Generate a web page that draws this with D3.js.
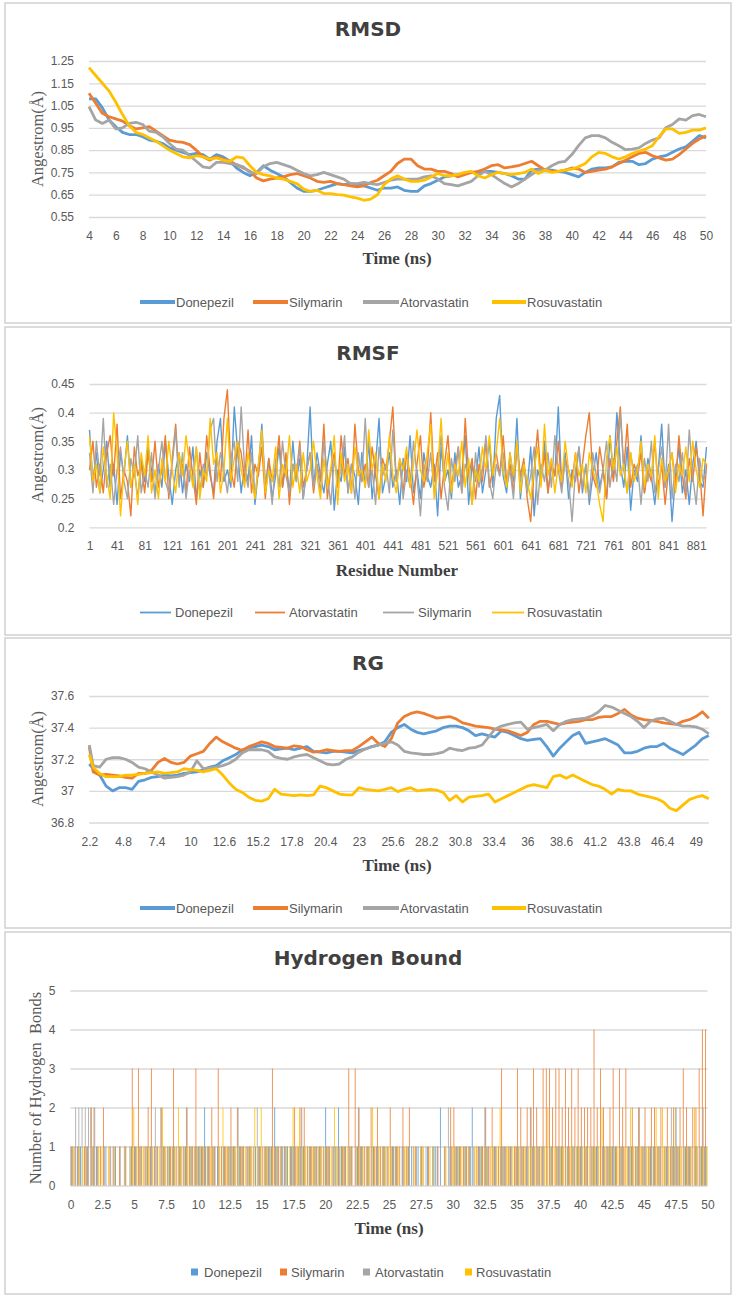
<!DOCTYPE html>
<html><head><meta charset="utf-8">
<script src="https://cdn.jsdelivr.net/npm/d3@7"></script>
<style>
html,body{margin:0;padding:0;background:#fff;}
svg{display:block;}
</style></head><body>
<svg id="c" width="736" height="1304"></svg>
<script>
// ---------------- DATA ----------------
const seriesNames = ["Donepezil","Silymarin","Atorvastatin","Rosuvastatin"];
const rmsfOrder = ["Donepezil","Atorvastatin","Silymarin","Rosuvastatin"];

// RMSD (Å), every 0.5 ns from 4 to 50 ns
const rmsdTimes = d3.range(4, 50.001, 0.5);
const rmsdTicks = [4,6,8,10,12,14,16,18,20,22,24,26,28,30,32,34,36,38,40,42,44,46,48,50];
const rmsdYTicks = [0.55,0.65,0.75,0.85,0.95,1.05,1.15,1.25];
const donepezilRMSD = [1.08,1.08,1.04,0.985,0.955,0.93,0.92,0.92,0.91,0.895,0.89,0.88,0.86,0.85,0.84,0.83,0.835,0.83,0.81,0.83,0.82,0.80,0.77,0.75,0.735,0.75,0.78,0.76,0.745,0.73,0.705,0.68,0.665,0.665,0.67,0.68,0.69,0.70,0.695,0.70,0.695,0.69,0.68,0.67,0.68,0.68,0.685,0.67,0.665,0.665,0.69,0.70,0.715,0.73,0.735,0.74,0.745,0.75,0.75,0.755,0.755,0.75,0.745,0.735,0.72,0.72,0.76,0.765,0.76,0.76,0.755,0.75,0.74,0.73,0.75,0.765,0.77,0.77,0.775,0.795,0.80,0.80,0.785,0.79,0.81,0.82,0.825,0.84,0.855,0.865,0.89,0.915,0.905];
const silymarinRMSD = [1.105,1.06,1.015,1.00,0.99,0.98,0.96,0.945,0.95,0.955,0.935,0.915,0.895,0.888,0.885,0.875,0.85,0.82,0.805,0.82,0.81,0.80,0.785,0.77,0.755,0.725,0.712,0.72,0.725,0.73,0.74,0.745,0.735,0.725,0.71,0.705,0.71,0.70,0.695,0.69,0.685,0.69,0.705,0.715,0.735,0.755,0.79,0.81,0.81,0.78,0.765,0.765,0.755,0.755,0.745,0.73,0.74,0.75,0.755,0.765,0.78,0.785,0.77,0.775,0.78,0.79,0.80,0.78,0.76,0.755,0.755,0.76,0.77,0.765,0.75,0.755,0.76,0.765,0.775,0.79,0.805,0.82,0.835,0.84,0.825,0.815,0.805,0.81,0.83,0.855,0.88,0.90,0.915];
const atorvastatinRMSD = [1.045,0.985,0.97,0.985,0.945,0.95,0.97,0.975,0.965,0.935,0.93,0.91,0.88,0.855,0.85,0.825,0.80,0.775,0.77,0.795,0.795,0.79,0.785,0.775,0.75,0.745,0.775,0.79,0.795,0.785,0.775,0.76,0.745,0.735,0.74,0.75,0.74,0.73,0.72,0.70,0.70,0.705,0.70,0.695,0.705,0.715,0.72,0.72,0.72,0.72,0.73,0.735,0.72,0.70,0.695,0.69,0.70,0.71,0.735,0.755,0.74,0.72,0.70,0.685,0.70,0.72,0.74,0.76,0.76,0.78,0.795,0.80,0.83,0.87,0.905,0.915,0.915,0.905,0.885,0.87,0.852,0.855,0.86,0.88,0.895,0.905,0.95,0.965,0.99,0.985,1.005,1.01,1.00];
const rosuvastatinRMSD = [1.22,1.185,1.15,1.115,1.065,1.01,0.96,0.93,0.92,0.905,0.89,0.87,0.85,0.835,0.82,0.815,0.825,0.82,0.81,0.815,0.805,0.80,0.82,0.815,0.78,0.75,0.74,0.735,0.725,0.72,0.71,0.70,0.675,0.665,0.67,0.655,0.655,0.65,0.648,0.64,0.635,0.625,0.63,0.65,0.695,0.72,0.735,0.72,0.71,0.71,0.715,0.73,0.745,0.735,0.735,0.74,0.75,0.755,0.735,0.725,0.74,0.75,0.745,0.74,0.745,0.75,0.765,0.745,0.76,0.75,0.755,0.76,0.765,0.775,0.79,0.82,0.84,0.835,0.82,0.81,0.82,0.835,0.845,0.855,0.87,0.91,0.945,0.945,0.925,0.93,0.94,0.94,0.95];

// RMSF (hundredths of Å), every 5th residue from 1 to 896
const rmsfResidues = d3.range(1, 897, 5);
const rmsfTicks = [1,41,81,121,161,201,241,281,321,361,401,441,481,521,561,601,641,681,721,761,801,841,881];
const rmsfYTicks = [0.2,0.25,0.3,0.35,0.4,0.45];
const donepezilRMSF = [37,28,33,26,30,35,27,31,24,33,29,36,27,30,25,32,28,34,30,26,
31,27,35,29,24,30,33,26,31,28,34,25,30,27,33,29,26,35,39,28,
30,27,41,33,26,31,28,36,24,30,38,27,32,25,29,34,27,31,26,35,
28,32,25,30,41,27,33,29,26,31,35,23,30,28,34,26,31,29,24,33,
27,35,25,31,39,26,29,33,27,30,24,32,28,36,26,30,25,33,29,27,
31,22,34,28,30,25,33,27,29,36,24,31,28,34,26,30,35,27,39,43,
29,26,33,28,39,25,31,27,34,22,30,28,35,26,31,29,41,27,33,25,
30,28,34,26,31,24,29,33,27,30,25,36,29,40,31,27,34,23,30,28,
36,26,32,29,24,30,38,27,31,21,29,34,26,30,24,31,35,28,27,34];
const silymarinRMSF = [33,26,35,29,39,27,31,24,30,34,28,25,32,29,36,26,30,27,33,25,
30,35,28,26,31,37,27,33,25,30,28,34,26,31,29,37,39,28,33,30,
26,32,35,28,41,30,27,33,25,31,36,28,30,24,32,27,35,29,26,31,
28,34,25,30,33,27,31,26,35,29,24,32,28,30,36,26,31,25,33,28,
39,27,30,24,34,29,31,26,37,28,32,25,30,27,35,29,22,31,28,33,
26,30,36,27,23,32,28,34,26,31,29,24,33,27,30,36,28,25,31,29,
33,27,30,25,35,28,31,26,29,34,24,31,28,33,27,36,30,26,32,28,
21,30,34,27,31,25,33,29,26,30,35,27,32,28,40,30,26,33,29,31,
24,32,28,35,26,30,34,27,38,25,31,28,33,26,37,29,24,32,28,30];
const atorvastatinRMSF = [30,35,27,31,26,33,36,29,38,25,30,28,22,34,29,31,26,33,28,35,
27,30,36,25,32,38,28,31,26,34,29,24,33,27,36,30,25,32,28,39,
44,30,27,35,33,28,37,26,31,29,34,25,32,28,30,36,27,33,24,31,
29,35,27,30,33,26,31,28,38,25,30,33,27,36,29,32,26,38,30,28,
31,27,34,29,25,32,30,35,41,28,31,26,33,29,24,31,36,27,30,40,
28,33,25,31,36,27,30,34,26,39,29,32,25,31,28,35,27,30,33,29,
36,28,31,26,34,29,32,25,21,30,37,28,33,26,31,29,35,27,32,30,
28,33,26,31,36,40,29,27,34,30,25,32,28,35,41,30,38,27,31,29,
33,26,30,28,35,27,31,24,30,33,27,36,29,25,32,28,34,30,22,31];
const rosuvastatinRMSF = [36,28,31,26,34,29,25,40,33,22,30,35,27,31,24,33,29,36,26,30,
25,32,28,35,30,26,33,29,36,31,27,34,25,30,28,39,31,33,26,30,
39,28,32,35,30,27,33,29,25,31,37,26,30,28,34,25,31,29,36,27,
31,26,33,28,30,35,29,25,32,27,30,36,24,33,28,31,26,34,29,30,
27,37,30,33,25,31,28,36,29,26,32,30,34,27,31,37,30,28,33,38,
25,30,39,28,33,26,31,29,35,27,32,24,30,28,34,30,36,29,33,39,
30,27,33,29,35,26,31,28,25,30,34,27,38,29,32,26,31,28,35,30,
27,33,29,31,26,33,30,28,24,21,32,36,30,34,29,31,26,33,28,30,
35,27,31,29,36,25,32,28,30,33,26,31,29,34,28,35,30,27,32,31];

// RG (Å)
const rgTimes = [2.2].concat(d3.range(2.5, 50.001, 0.5));
const rgTicks = [2.2,4.8,7.4,10,12.6,15.2,17.8,20.4,23,25.6,28.2,30.8,33.4,36,38.6,41.2,43.8,46.4,49];
const rgYTicks = [36.8,37,37.2,37.4,37.6];
const donepezilRG = [37.17,37.14,37.10,37.03,37.00,37.02,37.02,37.01,37.06,37.07,37.085,37.09,37.10,37.095,37.10,37.11,37.115,37.12,37.135,37.15,37.16,37.19,37.21,37.23,37.26,37.27,37.28,37.29,37.28,37.26,37.265,37.27,37.26,37.27,37.28,37.25,37.245,37.24,37.25,37.25,37.245,37.24,37.255,37.265,37.28,37.29,37.31,37.37,37.40,37.42,37.39,37.37,37.36,37.37,37.38,37.40,37.41,37.41,37.40,37.38,37.35,37.36,37.35,37.34,37.38,37.37,37.35,37.33,37.32,37.325,37.33,37.28,37.22,37.27,37.31,37.35,37.37,37.30,37.31,37.32,37.33,37.31,37.29,37.24,37.24,37.25,37.27,37.28,37.28,37.30,37.27,37.25,37.23,37.26,37.29,37.33,37.35];
const silymarinRG = [37.28,37.12,37.10,37.105,37.10,37.095,37.085,37.08,37.11,37.11,37.13,37.18,37.205,37.18,37.17,37.18,37.22,37.235,37.25,37.30,37.34,37.31,37.29,37.27,37.255,37.28,37.295,37.31,37.30,37.28,37.275,37.27,37.285,37.28,37.26,37.245,37.25,37.26,37.255,37.25,37.255,37.255,37.28,37.31,37.34,37.30,37.28,37.33,37.43,37.47,37.49,37.50,37.49,37.475,37.46,37.465,37.47,37.455,37.43,37.42,37.41,37.405,37.40,37.39,37.385,37.38,37.365,37.35,37.37,37.42,37.44,37.44,37.43,37.42,37.43,37.435,37.44,37.45,37.45,37.465,37.47,37.47,37.49,37.515,37.48,37.46,37.45,37.445,37.44,37.43,37.425,37.42,37.44,37.45,37.47,37.50,37.46];
const atorvastatinRG = [37.29,37.16,37.15,37.20,37.21,37.21,37.20,37.18,37.15,37.14,37.12,37.10,37.08,37.085,37.09,37.10,37.12,37.19,37.14,37.145,37.15,37.16,37.175,37.20,37.24,37.26,37.26,37.26,37.25,37.215,37.205,37.20,37.215,37.225,37.23,37.21,37.19,37.17,37.165,37.17,37.20,37.215,37.245,37.265,37.28,37.29,37.30,37.31,37.29,37.25,37.24,37.235,37.23,37.23,37.235,37.245,37.27,37.26,37.255,37.27,37.275,37.29,37.34,37.39,37.41,37.42,37.43,37.435,37.39,37.40,37.41,37.42,37.38,37.42,37.44,37.45,37.455,37.46,37.475,37.50,37.54,37.53,37.51,37.49,37.47,37.44,37.40,37.44,37.455,37.46,37.44,37.42,37.41,37.41,37.405,37.39,37.36];
const rosuvastatinRG = [37.23,37.15,37.11,37.09,37.09,37.09,37.10,37.10,37.105,37.11,37.115,37.12,37.11,37.115,37.12,37.14,37.135,37.13,37.12,37.13,37.14,37.10,37.05,37.01,36.99,36.96,36.94,36.935,36.95,37.01,36.98,36.975,36.97,36.975,36.97,36.975,37.03,37.02,37.00,36.98,36.975,36.975,37.02,37.01,37.005,37.00,37.01,37.02,36.995,37.01,37.02,37.00,37.005,37.01,37.005,36.99,36.94,36.97,36.93,36.96,36.965,36.97,36.98,36.93,36.95,36.97,36.99,37.01,37.03,37.04,37.03,37.02,37.09,37.10,37.08,37.10,37.08,37.06,37.04,37.03,37.01,36.98,37.01,37.00,37.00,36.98,36.97,36.96,36.95,36.93,36.89,36.875,36.91,36.945,36.96,36.97,36.95];

// Hydrogen bonds: count per 0.25 ns slot, 0 to 50 ns (200 slots each)
const hbTicks = [0,2.5,5,7.5,10,12.5,15,17.5,20,22.5,25,27.5,30,32.5,35,37.5,40,42.5,45,47.5,50];
const hbYTicks = [0,1,2,3,4,5];
const donepezilHB = "1011010110 0100100101 1010110101 0110101011 1121011010 1101101011 0111211111 1011010110 2101211010 1101011010 0110101101 1010112001 0110112011 2101011010 1011010110 0101101011 1010110101 1101011010 1011010101 2101101011";
const silymarinHB = "1110112211 2011010103 1311231121 1131112113 1111213111 2121111101 1113111101 2122111111 1110111313 2111212111 2111212010 1010010102 2111110111 2121131111 3212232133 3233232323 2222423212 3132312121 2122121212 1232122344";
const atorvastatinHB = "1222222210 1011010010 1101012021 1010112101 1101101011 1121011021 0110101101 1121011010 1011010101 2101101011 1010110110 0101100121 1101011010 1011011101 1101211011 1011101101 1101110111 1011011121 1101101121 1011101121";
const rosuvastatinHB = "1011101011 0101001012 1111110121 1112111111 1111101211 1111111212 1111110112 1211111111 1121111101 1111211111 1110110101 1011000101 1111101111 1111211111 1111111112 1111111111 1111112111 1111121111 1112121112 1111121111";

// ---------------- STYLE ----------------
const colors = {Donepezil:"#5B9BD5", Silymarin:"#ED7D31", Atorvastatin:"#A5A5A5", Rosuvastatin:"#FFC000"};
// RMSF chart uses the default palette in its own series order
const rmsfColors = {Donepezil:"#5B9BD5", Atorvastatin:"#ED7D31", Silymarin:"#A5A5A5", Rosuvastatin:"#FFC000"};
const sansFont = "'Liberation Sans', Arial, sans-serif";
const serifFont = "'Liberation Serif', 'Times New Roman', serif";
const titleFont = "'DejaVu Sans', Verdana, sans-serif";
const tickColor = "#595959";
const gridColor = "#d9d9d9";

const svg = d3.select("#c");
svg.append("rect").attr("width",736).attr("height",1304).attr("fill","#fff");

function panelFrame(x, y, w, h) {
  svg.append("rect").attr("x",x).attr("y",y).attr("width",w).attr("height",h)
    .attr("fill","#fff").attr("stroke","#d4d4d4").attr("stroke-width",1.6);
}
function title(txt, cx, cy) {
  svg.append("text").attr("x",cx).attr("y",cy).attr("dy","0.35em").attr("text-anchor","middle")
    .attr("font-family",titleFont).attr("font-weight","bold").attr("font-size",20).attr("fill","#404040").text(txt);
}
function xTitle(txt, cx, cy) {
  svg.append("text").attr("x",cx).attr("y",cy).attr("dy","0.35em").attr("text-anchor","middle")
    .attr("font-family",serifFont).attr("font-weight","bold").attr("font-size",17).attr("fill","#404040").text(txt);
}
function yTitle(txt, cx, cy) {
  svg.append("text").attr("transform",`translate(${cx},${cy}) rotate(-90)`).attr("dy","0.35em")
    .attr("text-anchor","middle").attr("font-family",serifFont).attr("font-size",16.5)
    .attr("fill",tickColor).style("white-space","pre").text(txt);
}
function axes(x, y, xTicks, yTicks, yFmt) {
  const [x0, x1] = x.range();
  const [yb] = y.range();
  const gy = svg.append("g").attr("transform",`translate(${x0},0)`)
    .call(d3.axisLeft(y).tickValues(yTicks).tickSize(-(x1 - x0)).tickPadding(15).tickFormat(yFmt));
  gy.select(".domain").remove();
  gy.selectAll("line").attr("stroke",gridColor).attr("stroke-width",1.3);
  gy.selectAll("text").attr("font-family",sansFont).attr("font-size",12).attr("fill",tickColor);
  const gx = svg.append("g").attr("transform",`translate(0,${yb})`)
    .call(d3.axisBottom(x).tickValues(xTicks).tickSize(0).tickPadding(14.5).tickFormat(d => String(d)));
  gx.select(".domain").remove();
  gx.selectAll("text").attr("font-family",sansFont).attr("font-size",12).attr("fill",tickColor);
}
function legend(items, cy, kind, pal) {
  const g = svg.append("g");
  items.forEach(it => {
    if (kind === "square") {
      g.append("rect").attr("x",it.sx).attr("y",cy-3.5).attr("width",7).attr("height",7).attr("fill",pal[it.name]);
    } else {
      g.append("line").attr("x1",it.sx).attr("x2",it.ex).attr("y1",cy).attr("y2",cy)
        .attr("stroke",pal[it.name]).attr("stroke-width",kind === "thick" ? 4 : 1.8);
    }
    g.append("text").attr("x",it.tx).attr("y",cy).attr("dy","0.35em").attr("font-family",sansFont)
      .attr("font-size",13).attr("fill",tickColor).text(it.name);
  });
}

// ---------------- PANEL 1: RMSD ----------------
panelFrame(5, 3, 726, 320);
{
  const x = d3.scaleLinear().domain([4, 50]).range([89, 706]);
  const y = d3.scaleLinear().domain([0.55, 1.25]).range([217, 61]);
  axes(x, y, rmsdTicks, rmsdYTicks, d3.format(".2f"));
  const data = {Donepezil:donepezilRMSD, Silymarin:silymarinRMSD, Atorvastatin:atorvastatinRMSD, Rosuvastatin:rosuvastatinRMSD};
  const line = d3.line().x((d,i) => x(rmsdTimes[i])).y(d => y(d));
  seriesNames.forEach(n => {
    svg.append("path").datum(data[n]).attr("d",line).attr("fill","none").attr("stroke",colors[n])
      .attr("stroke-width",2.8).attr("stroke-linejoin","round");
  });
  title("RMSD", 368, 29);
  xTitle("Time (ns)", 397, 258);
  yTitle("Angestrom(Å)", 37, 139);
  legend([{name:"Donepezil",sx:140,ex:175,tx:176},{name:"Silymarin",sx:253,ex:288,tx:289},
          {name:"Atorvastatin",sx:363,ex:399,tx:400},{name:"Rosuvastatin",sx:492,ex:526,tx:527}], 302, "thick", colors);
}

// ---------------- PANEL 2: RMSF ----------------
panelFrame(5, 327, 726, 308);
{
  const x = d3.scaleLinear().domain([1, 896]).range([89.5, 706.5]);
  const y = d3.scaleLinear().domain([0.2, 0.45]).range([527.3, 384]);
  axes(x, y, rmsfTicks, rmsfYTicks, d => String(d));
  const data = {Donepezil:donepezilRMSF, Atorvastatin:atorvastatinRMSF, Silymarin:silymarinRMSF, Rosuvastatin:rosuvastatinRMSF};
  const line = d3.line().x((d,i) => x(rmsfResidues[i])).y(d => y(d / 100));
  rmsfOrder.forEach(n => {
    svg.append("path").datum(data[n]).attr("d",line).attr("fill","none").attr("stroke",rmsfColors[n])
      .attr("stroke-width",1.4).attr("stroke-linejoin","round");
  });
  title("RMSF", 368, 352.5);
  xTitle("Residue Number", 397, 570);
  yTitle("Angestrom(Å)", 37, 455);
  legend([{name:"Donepezil",sx:140,ex:171,tx:175},{name:"Atorvastatin",sx:255,ex:285,tx:289},
          {name:"Silymarin",sx:383,ex:414,tx:418},{name:"Rosuvastatin",sx:492,ex:524,tx:527}], 612.5, "thin", rmsfColors);
}

// ---------------- PANEL 3: RG ----------------
panelFrame(5, 638, 726, 290);
{
  const x = d3.scaleLinear().domain([2.2, 50]).range([89.3, 708.8]);
  const y = d3.scaleLinear().domain([36.8, 37.6]).range([822.5, 696]);
  axes(x, y, rgTicks, rgYTicks, d => String(d));
  const data = {Donepezil:donepezilRG, Silymarin:silymarinRG, Atorvastatin:atorvastatinRG, Rosuvastatin:rosuvastatinRG};
  const line = d3.line().x((d,i) => x(rgTimes[i])).y(d => y(d));
  seriesNames.forEach(n => {
    svg.append("path").datum(data[n]).attr("d",line).attr("fill","none").attr("stroke",colors[n])
      .attr("stroke-width",2.8).attr("stroke-linejoin","round");
  });
  title("RG", 368, 663);
  xTitle("Time (ns)", 397, 865);
  yTitle("Angestrom(Å)", 37, 759);
  legend([{name:"Donepezil",sx:140,ex:175,tx:176},{name:"Silymarin",sx:253,ex:288,tx:289},
          {name:"Atorvastatin",sx:363,ex:399,tx:400},{name:"Rosuvastatin",sx:492,ex:526,tx:527}], 908, "thick", colors);
}

// ---------------- PANEL 4: Hydrogen bonds ----------------
panelFrame(5, 932, 726, 362);
{
  const x = d3.scaleLinear().domain([0, 50]).range([70.5, 707.5]);
  const y = d3.scaleLinear().domain([0, 5]).range([1185.5, 990.5]);
  axes(x, y, hbTicks, hbYTicks, d => String(d));
  const parse = s => s.replace(/\s+/g, "").split("").map(Number);
  const data = {Donepezil:parse(donepezilHB), Silymarin:parse(silymarinHB), Atorvastatin:parse(atorvastatinHB), Rosuvastatin:parse(rosuvastatinHB)};
  const slots = d3.range(data.Donepezil.length);
  const x0 = d3.scaleBand().domain(slots).range(x.range());
  const x1 = d3.scaleBand().domain(seriesNames).range([0, x0.bandwidth()]);
  const rows = [];
  slots.forEach(s => seriesNames.forEach(n => { if (data[n][s] > 0) rows.push({s, n, v:data[n][s]}); }));
  svg.append("g").selectAll("rect").data(rows).join("rect")
    .attr("x", d => x0(d.s) + x1(d.n)).attr("width", x1.bandwidth())
    .attr("y", d => y(d.v)).attr("height", d => y(0) - y(d.v))
    .attr("fill", d => colors[d.n]);
  title("Hydrogen Bound", 368, 958);
  xTitle("Time (ns)", 389, 1228);
  yTitle("Number of Hydrogen  Bonds", 35, 1088);
  legend([{name:"Donepezil",sx:191,tx:204},{name:"Silymarin",sx:280,tx:291},
          {name:"Atorvastatin",sx:363,tx:375},{name:"Rosuvastatin",sx:465,tx:476}], 1272, "square", colors);
}
</script>
</body></html>
